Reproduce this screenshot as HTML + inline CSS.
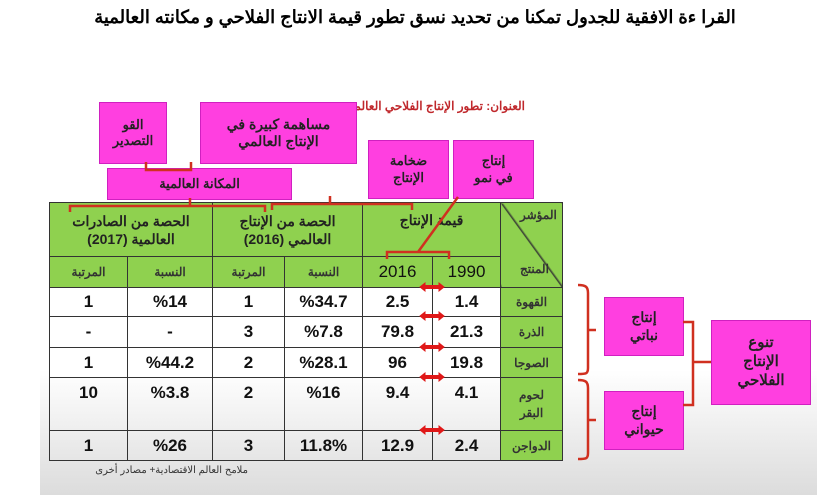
<!DOCTYPE html>
<html><head><meta charset="utf-8"><style>
body{margin:0;width:830px;height:502px;background:#fff;position:relative;overflow:hidden;font-family:"Liberation Sans","Noto Sans CJK SC",sans-serif;}
.a{position:absolute}
.bg{left:40px;top:370px;width:777px;height:125px;background:linear-gradient(#fff,#dcdcdc)}
.pk{position:absolute;background:#ff3fe0;border:1px solid #d020c0;color:#222;font-weight:bold;text-align:center;display:flex;align-items:center;justify-content:center;line-height:1.25;direction:rtl}
table{position:absolute;left:49px;top:202px;border-collapse:collapse;width:513px;table-layout:fixed;direction:ltr}
td{border:1.5px solid #333;text-align:center;font-weight:bold;font-size:17px;padding:0;color:#111;line-height:18px;overflow:hidden}
.g{background:#8fd14f;font-size:12px;color:#333}
.w td{background:#fff}
</style></head><body>
<div class="a bg"></div>
<div class="a" style="left:0;width:830px;top:7px;text-align:center;font-weight:bold;font-size:18px;direction:rtl">القرا ءة الافقية للجدول تمكنا من تحديد نسق تطور قيمة الانتاج الفلاحي و مكانته العالمية</div>
<div class="a" style="left:360px;top:99px;width:165px;text-align:right;color:#c0282c;font-weight:bold;font-size:12px;direction:rtl;white-space:nowrap">العنوان: تطور الإنتاج الفلاحي العالمية</div>
<table>
<colgroup><col style="width:78px"><col style="width:85px"><col style="width:72px"><col style="width:78px"><col style="width:70px"><col style="width:68px"><col style="width:62px"></colgroup>
<tr style="height:54px"><td class="g" colspan="2" style="font-size:14px;color:#222">الحصة من الصادرات<br>العالمية (2017)</td><td class="g" colspan="2" style="font-size:14px;color:#222">الحصة من الإنتاج<br>العالمي (2016)</td><td class="g" colspan="2" style="font-size:14px;color:#222;vertical-align:top;padding-top:8px">قيمة الإنتاج</td><td class="g" rowspan="2" style="background:#8fd14f linear-gradient(to top right,transparent 49%,#333 50%,transparent 52%)"></td></tr>
<tr style="height:31px"><td class="g">المرتبة</td><td class="g">النسبة</td><td class="g">المرتبة</td><td class="g">النسبة</td><td class="g" style="font-size:17px;color:#111;font-weight:normal">2016</td><td class="g" style="font-size:17px;color:#111;font-weight:normal">1990</td></tr>
<tr class="w" style="height:29px"><td>1</td><td>%14</td><td>1</td><td>%34.7</td><td>2.5</td><td>1.4</td><td class="g" style="background:#8fd14f">القهوة</td></tr>
<tr class="w" style="height:31px"><td>-</td><td>-</td><td>3</td><td>%7.8</td><td>79.8</td><td>21.3</td><td class="g" style="background:#8fd14f">الذرة</td></tr>
<tr class="w" style="height:30px"><td>1</td><td>%44.2</td><td>2</td><td>%28.1</td><td>96</td><td>19.8</td><td class="g" style="background:#8fd14f">الصوجا</td></tr>
<tr style="height:53px"><td style="vertical-align:top;padding-top:6px">10</td><td style="vertical-align:top;padding-top:6px">%3.8</td><td style="vertical-align:top;padding-top:6px">2</td><td style="vertical-align:top;padding-top:6px">%16</td><td style="vertical-align:top;padding-top:6px">9.4</td><td style="vertical-align:top;padding-top:6px">4.1</td><td class="g">لحوم<br>البقر</td></tr>
<tr style="height:30px"><td>1</td><td>%26</td><td>3</td><td>11.8%</td><td>12.9</td><td>2.4</td><td class="g">الدواجن</td></tr>
</table>
<div class="a" style="left:520px;top:208px;font-size:12px;color:#333;font-weight:bold">المؤشر</div>
<div class="a" style="left:520px;top:262px;font-size:12px;color:#333;font-weight:bold">المنتج</div>
<div class="pk" style="left:99px;top:102px;width:66px;height:60px;font-size:13px">القو<br>التصدير</div>
<div class="pk" style="left:200px;top:102px;width:155px;height:60px;font-size:14px">مساهمة كبيرة في<br>الإنتاج العالمي</div>
<div class="pk" style="left:107px;top:168px;width:183px;height:30px;font-size:13px">المكانة العالمية</div>
<div class="pk" style="left:368px;top:140px;width:79px;height:57px;font-size:13px">ضخامة<br>الإنتاج</div>
<div class="pk" style="left:453px;top:140px;width:79px;height:57px;font-size:13px">إنتاج<br>في نمو</div>
<svg class="a" style="left:0;top:0;z-index:3" width="830" height="502">
<g stroke="#d03020" stroke-width="2.5" fill="none">
<path d="M146 162v8h45v-8"/>
<path d="M70 212v-6h195v6M190 206v-8"/>
<path d="M272 210v-6h140v6M330 204v-8"/>
<path d="M387 259v-7h62v7M418 252l40-55"/>
<path d="M578 285c8 0 10 2 10 8v75c0 6-2 6-10 6M588 330h8"/>
<path d="M578 380c8 0 10 2 10 8v65c0 6-2 6-10 6M588 420h8"/>
<path d="M683 322h10v83h-10M693 362h18"/>
</g>
<g stroke="#e01818" stroke-width="4" fill="#e01818">
<path d="M423 287h18M423 316h18M423 347h18M423 377h18M423 430h18"/>
<path d="M420 287l5-4v8zM444 287l-5-4v8zM420 316l5-4v8zM444 316l-5-4v8zM420 347l5-4v8zM444 347l-5-4v8zM420 377l5-4v8zM444 377l-5-4v8zM420 430l5-4v8zM444 430l-5-4v8z" stroke-width="1"/>
</g>
</svg>
<div class="a" style="left:43px;top:465px;width:205px;text-align:right;font-size:10px;color:#333;direction:rtl">ملامح العالم الاقتصادية+ مصادر أخرى</div>
<div class="pk" style="left:604px;top:297px;width:78px;height:57px;font-size:14px">إنتاج<br>نباتي</div>
<div class="pk" style="left:604px;top:391px;width:78px;height:57px;font-size:14px">إنتاج<br>حيواني</div>
<div class="pk" style="left:711px;top:320px;width:98px;height:83px;font-size:15px">تنوع<br>الإنتاج<br>الفلاحي</div>
</body></html>
